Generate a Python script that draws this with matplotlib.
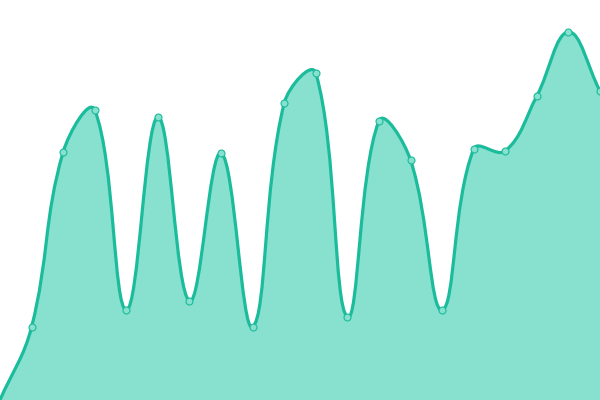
import numpy as np
import matplotlib
matplotlib.use("Agg")
import matplotlib.pyplot as plt
from matplotlib.path import Path
from matplotlib.patches import PathPatch

# valori (altezza in pixel sopra il fondo)
valori = [0, 73, 248, 290, 90, 283, 99, 247, 73, 297, 327, 83, 279, 240, 90, 251, 249, 304, 368, 309]
linea_colore = "#1abc9c"
riempimento = "#88e0cf"

W, H = 600, 400
n = len(valori)
px = np.arange(n) * W / (n - 1)
py = np.array(valori, dtype=float)

# curva tipo Chart.js (tension 0.4)
t = 0.4
cp_prev = []
cp_next = []
for i in range(n):
    p0 = np.array([px[max(i - 1, 0)], py[max(i - 1, 0)]])
    p1 = np.array([px[i], py[i]])
    p2 = np.array([px[min(i + 1, n - 1)], py[min(i + 1, n - 1)]])
    d01 = np.hypot(*(p1 - p0))
    d12 = np.hypot(*(p2 - p1))
    tot = d01 + d12
    s01 = d01 / tot if tot else 0
    s12 = d12 / tot if tot else 0
    cp_prev.append(p1 - t * s01 * (p2 - p0))
    cp_next.append(p1 + t * s12 * (p2 - p0))

verts = [(px[0], py[0])]
codes = [Path.MOVETO]
for i in range(n - 1):
    verts += [tuple(cp_next[i]), tuple(cp_prev[i + 1]), (px[i + 1], py[i + 1])]
    codes += [Path.CURVE4] * 3

fig = plt.figure(figsize=(6, 4), dpi=100)
ax = fig.add_axes([0, 0, 1, 1])
ax.set_xlim(0, W)
ax.set_ylim(0, H)
ax.axis("off")

area = Path(verts + [(px[-1], 0), (px[0], 0), (px[0], py[0])],
            codes + [Path.LINETO, Path.LINETO, Path.CLOSEPOLY])
ax.add_patch(PathPatch(area, facecolor=riempimento, edgecolor="none"))
ax.add_patch(PathPatch(Path(verts, codes), facecolor="none", edgecolor=linea_colore, lw=2.3))
ax.plot(px[1:], py[1:], "o", ms=5, mfc=riempimento, mec=linea_colore, mew=0.8, clip_on=True)

fig.savefig("out.png", dpi=100)
